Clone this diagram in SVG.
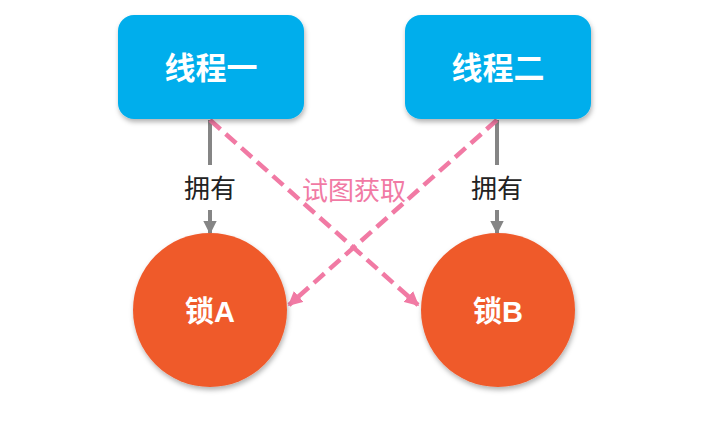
<svg xmlns="http://www.w3.org/2000/svg" width="720" height="444" viewBox="0 0 720 444">
<defs>
<style>
.box{fill:#03aeec}
.lock{fill:#ef5a2c}
.t{font-family:"Liberation Sans","Noto Sans CJK SC",sans-serif;font-weight:bold;fill:#fff;text-anchor:middle}
.own{stroke:#858585;stroke-width:4;fill:none}
.try{stroke:#f17aa4;stroke-width:4.5;stroke-dasharray:14 7;fill:none}
.lbl{font-family:"Noto Sans CJK SC",sans-serif;font-size:26px;text-anchor:middle}
</style>
<filter id="sh" x="-20%" y="-20%" width="140%" height="150%">
<feDropShadow dx="1" dy="3" stdDeviation="2.5" flood-color="#000" flood-opacity="0.3"/>
</filter>
<marker id="ag" viewBox="0 0 10 10" refX="9" refY="5" markerWidth="3.4" markerHeight="3.4" orient="auto"><path d="M0,0 L10,5 L0,10 z" fill="#858585"/></marker>
<marker id="ap" viewBox="0 0 10 10" refX="9" refY="5" markerWidth="3.2" markerHeight="3.2" orient="auto"><path d="M0,0 L10,5 L0,10 z" fill="#f17aa4"/></marker>
</defs>
<rect width="720" height="444" fill="#fff"/>
<g id="connectors">
<line class="own" x1="210" y1="120" x2="210" y2="165"/>
<line class="own" x1="210" y1="210" x2="210" y2="233" marker-end="url(#ag)"/>
<line class="own" x1="497" y1="120" x2="497" y2="165"/>
<line class="own" x1="497" y1="210" x2="497" y2="233" marker-end="url(#ag)"/>
<line class="try" x1="210" y1="120" x2="418" y2="305" marker-end="url(#ap)"/>
<line class="try" x1="497" y1="120" x2="289" y2="305" marker-end="url(#ap)"/>
<text class="lbl" x="210" y="198" fill="#222">拥有</text>
<text class="lbl" x="497" y="198" fill="#222">拥有</text>
<text class="lbl" x="354" y="200" fill="#f17aa4">试图获取</text>
</g>
<g id="thread1">
<rect class="box" x="118" y="15" width="186" height="104" rx="16" filter="url(#sh)"/>
<text class="t" x="211" y="79" font-size="31">线程一</text>
</g>
<g id="thread2">
<rect class="box" x="405" y="15" width="186" height="104" rx="16" filter="url(#sh)"/>
<text class="t" x="498" y="79" font-size="31">线程二</text>
</g>
<g id="lockA">
<circle class="lock" cx="210" cy="310" r="77" filter="url(#sh)"/>
<text class="t" x="210" y="322" font-size="29">锁A</text>
</g>
<g id="lockB">
<circle class="lock" cx="498" cy="310" r="77" filter="url(#sh)"/>
<text class="t" x="498" y="322" font-size="29">锁B</text>
</g>
</svg>
